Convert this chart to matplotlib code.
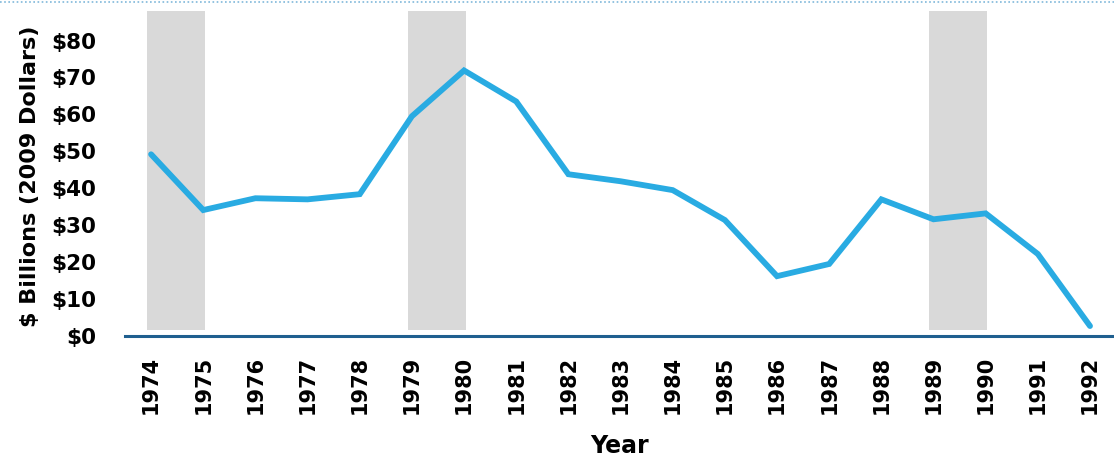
import matplotlib.pyplot as plt
from matplotlib.lines import Line2D

# datos
years = list(range(1974, 1993))
values = [49.2, 34.1, 37.3, 37.0, 38.4, 59.5, 71.9, 63.5, 43.8, 41.9,
          39.5, 31.4, 16.2, 19.5, 37.0, 31.6, 33.2, 22.2, 2.7]
shaded_years = [1974, 1979, 1989]
y_ticks = [0, 10, 20, 30, 40, 50, 60, 70, 80]
y_labels = ['$0', '$10', '$20', '$30', '$40', '$50', '$60', '$70', '$80']

plt.rcParams['font.family'] = ['DejaVu Sans']
plt.rcParams['font.weight'] = 'bold'

fig = plt.figure(figsize=(11.14, 4.59), dpi=100)
ax = fig.add_axes([125 / 1114, (459 - 336) / 459, 1 - 125 / 1114, (336 - 11) / 459])

# bandas grises
for yr in shaded_years:
    ax.fill_between([yr - 0.08, yr + 1.03], 1.6, 88, color='#D9D9D9', lw=0, zorder=1)

ax.plot(years, values, color='#29ABE2', lw=4.2, solid_capstyle='round',
        solid_joinstyle='miter', zorder=3)

ax.set_xlim(1973.5, 1992.46)
ax.set_ylim(0, 88)

ax.set_xticks(years)
ax.set_xticklabels([str(y) for y in years], rotation=90, fontsize=15, fontweight='bold')
ax.set_yticks(y_ticks)
ax.set_yticklabels(y_labels, fontsize=15.5, fontweight='bold')
ax.tick_params(axis='both', length=0)
ax.tick_params(axis='y', pad=21)
ax.tick_params(axis='x', pad=14)

for s in ['top', 'right', 'left']:
    ax.spines[s].set_visible(False)
ax.spines['bottom'].set_color('#1F5F8F')
ax.spines['bottom'].set_linewidth(2.2)
ax.spines['bottom'].set_zorder(4)

fig.text(30 / 1114, 1 - 176 / 459, '$ Billions (2009 Dollars)', rotation=90,
         ha='center', va='center', fontsize=16, fontweight='bold')
fig.text(620 / 1114, 1 - 446 / 459, 'Year', ha='center', va='center',
         fontsize=17, fontweight='bold')

# linea punteada superior
fig.add_artist(Line2D([0, 1], [1 - 1.5 / 459, 1 - 1.5 / 459], color='#7FB8DA',
                      lw=1.2, ls=(0, (1, 1.5)), transform=fig.transFigure))

plt.savefig('out.png', dpi=100)
